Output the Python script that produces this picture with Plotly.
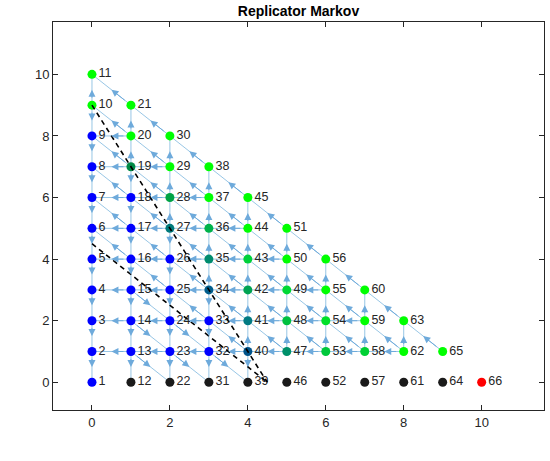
import plotly.graph_objects as go

# lattice states: x = count of first type, y = count of second type
node_x = [0, 0, 0, 0, 0, 0, 0, 0, 0, 0, 0,
          1, 1, 1, 1, 1, 1, 1, 1, 1, 1,
          2, 2, 2, 2, 2, 2, 2, 2, 2,
          3, 3, 3, 3, 3, 3, 3, 3,
          4, 4, 4, 4, 4, 4, 4,
          5, 5, 5, 5, 5, 5,
          6, 6, 6, 6, 6,
          7, 7, 7, 7,
          8, 8, 8,
          9, 9,
          10]
node_y = [0, 1, 2, 3, 4, 5, 6, 7, 8, 9, 10,
          0, 1, 2, 3, 4, 5, 6, 7, 8, 9,
          0, 1, 2, 3, 4, 5, 6, 7, 8,
          0, 1, 2, 3, 4, 5, 6, 7,
          0, 1, 2, 3, 4, 5, 6,
          0, 1, 2, 3, 4, 5,
          0, 1, 2, 3, 4,
          0, 1, 2, 3,
          0, 1, 2,
          0, 1,
          0]
node_ids = list(range(1, 67))

B, G, K = "#0000ff", "#00ff00", "#1a1a1a"
node_color = [B, B, B, B, B, B, B, B, B, G, G,
              K, B, B, B, B, B, B, "#008a46", G, G,
              K, B, B, B, B, "#007a7a", "#00a344", G, G,
              K, B, B, "#005d8c", "#008c6e", "#00b34a", G, G,
              K, "#00538a", "#007a82", "#00a352", "#00d13a", G, G,
              K, "#00906a", "#00c040", "#00d835", G, G,
              K, "#00c83c", "#00e02a", G, G,
              K, "#00d034", G, G,
              K, G, G,
              K, G,
              "#ff0000"]

# directed transitions (from, to)
edges = [
    (13, 2), (23, 13), (32, 23), (40, 32), (47, 40), (53, 47), (58, 53), (62, 58),
    (14, 3), (24, 14), (33, 24), (41, 33), (48, 41), (54, 48), (59, 54),
    (15, 4), (25, 15), (34, 25), (42, 34), (49, 42), (55, 49),
    (16, 5), (26, 16), (35, 26), (43, 35), (50, 43),
    (17, 6), (27, 17), (36, 27), (44, 36),
    (18, 7), (28, 18), (37, 28),
    (19, 8), (29, 19),
    (20, 9),
    (2, 1), (3, 2), (4, 3), (5, 4), (6, 5), (7, 6), (8, 7), (9, 8), (10, 9), (10, 11),
    (13, 12), (14, 13), (15, 14), (16, 15), (17, 16), (18, 17), (19, 18), (19, 20), (20, 21),
    (23, 22), (24, 23), (25, 24), (26, 25), (27, 26), (27, 28), (28, 29), (29, 30),
    (32, 31), (33, 32), (34, 33), (34, 35), (35, 36), (36, 37), (37, 38),
    (40, 39), (40, 41), (41, 42), (42, 43), (43, 44), (44, 45),
    (47, 48), (48, 49), (49, 50), (50, 51),
    (53, 54), (54, 55), (55, 56),
    (58, 59), (59, 60),
    (62, 63),
    (13, 22), (14, 23), (23, 31), (15, 24), (24, 32), (32, 39),
    (16, 6), (25, 16), (33, 25), (40, 33),
    (17, 7), (26, 17), (34, 26), (41, 34), (47, 41),
    (18, 8), (27, 18), (35, 27), (42, 35), (48, 42), (53, 48),
    (19, 9), (28, 19), (36, 28), (43, 36), (49, 43), (54, 49), (58, 54),
    (20, 10), (29, 20), (37, 29), (44, 37), (50, 44), (55, 50), (59, 55), (62, 59),
    (21, 11), (30, 21), (38, 30), (45, 38), (51, 45), (56, 51), (60, 56), (63, 60), (65, 63),
]

# dashed separatrix lines
line1_x = [0, 4.5]
line1_y = [9, 0]
line2_x = [0, 4.5]
line2_y = [4.5, 0]

EDGE = "#8cbfe2"
HEAD = "#6eaadb"
TXT = "#262626"
FONT = "Liberation Sans, Arial"

ex, ey = [], []
for s, t in edges:
    ex += [node_x[s - 1], node_x[t - 1], None]
    ey += [node_y[s - 1], node_y[t - 1], None]

fig = go.Figure()
fig.add_trace(go.Scatter(x=ex, y=ey, mode="lines", line=dict(color=EDGE, width=0.9),
                         hoverinfo="skip"))
fig.add_trace(go.Scatter(x=node_x, y=node_y, mode="markers+text",
                         text=[str(n) for n in node_ids], textposition="middle right",
                         textfont=dict(family=FONT, size=12.5, color=TXT),
                         marker=dict(size=9, color=node_color, line=dict(width=0))))
fig.add_trace(go.Scatter(x=line1_x + [None] + line2_x, y=line1_y + [None] + line2_y,
                         mode="lines", line=dict(color="black", width=1.6, dash="5px,4px")))

arrows = []
for s, t in edges:
    x0, y0 = node_x[s - 1], node_y[s - 1]
    x1, y1 = node_x[t - 1], node_y[t - 1]
    arrows.append(dict(x=(x0 + x1) / 2, y=(y0 + y1) / 2, ax=x0, ay=y0,
                       xref="x", yref="y", axref="x", ayref="y", text="",
                       showarrow=True, arrowhead=2, arrowsize=1.4, arrowwidth=1,
                       arrowcolor=HEAD, startstandoff=6))

axis = dict(showline=True, linecolor=TXT, linewidth=0.8, mirror="ticks", ticks="inside",
            ticklen=5, tickcolor=TXT, showgrid=False, zeroline=False,
            tickfont=dict(family=FONT, size=13, color=TXT),
            tickvals=[0, 2, 4, 6, 8, 10])

fig.update_layout(width=550, height=461, showlegend=False,
                  plot_bgcolor="white", paper_bgcolor="white",
                  margin=dict(l=53, r=6, t=22, b=51),
                  title=dict(text="<b>Replicator Markov</b>", x=0.5, xref="paper",
                             y=1 - 11 / 461, yref="container", yanchor="middle",
                             font=dict(family=FONT, size=14, color="black")),
                  xaxis=dict(axis, range=[-1.0, 11.6]),
                  yaxis=dict(axis, range=[-0.9, 11.7]),
                  annotations=arrows)
# drop the default 8px page margin so the figure fills the window exactly
fig.write_html("out.html", config={"displayModeBar": False},
               post_script="document.body.style.margin = '0px';")
